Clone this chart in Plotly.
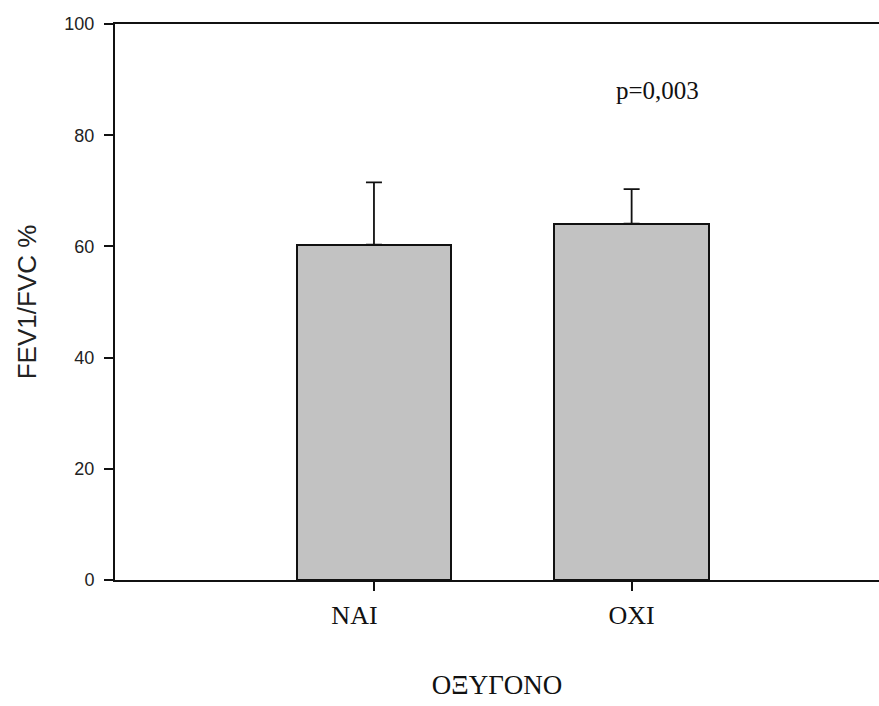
import plotly.graph_objects as go

categories = ["NAI", "OXI"]
means = [60.3, 64.1]
err_plus = [11.2, 6.2]
y_ticks = [0, 20, 40, 60, 80, 100]
annotation_text = "p=0,003"

x_pos = list(range(len(categories)))
# the reference draws the first category label slightly left of its tick
tick_display = [categories[0] + "\u00a0" * 6, categories[1]]

fig = go.Figure()
fig.add_trace(go.Bar(
    x=x_pos,
    y=means,
    width=0.6,
    marker=dict(color="#c2c2c2", line=dict(color="#111111", width=2)),
    error_y=dict(type="data", symmetric=False, array=err_plus,
                 arrayminus=[0] * len(means), color="#111111",
                 thickness=1.8, width=8),
    showlegend=False,
))

fig.add_annotation(x=1.1, y=88, text=annotation_text, showarrow=False,
                   font=dict(family="Liberation Serif", size=25, color="#111111"))

fig.update_layout(
    width=879, height=706,
    margin=dict(l=115, r=0, t=24, b=126),
    paper_bgcolor="white", plot_bgcolor="white",
    bargap=0,
)
fig.update_xaxes(
    range=[-1.005, 1.96],
    tickvals=x_pos, ticktext=tick_display,
    showline=True, linecolor="#111111", linewidth=2, mirror=True,
    ticks="outside", ticklen=9, tickwidth=1.5, tickcolor="#111111",
    showgrid=False, zeroline=False,
    tickfont=dict(family="Liberation Serif", size=26, color="#111111"),
    ticklabelstandoff=2,
    title=dict(text="ΟΞΥΓΟΝΟ", standoff=46,
               font=dict(family="Liberation Serif", size=27, color="#111111")),
)
fig.update_yaxes(
    range=[0, 100],
    tickvals=y_ticks,
    showline=True, linecolor="#111111", linewidth=2, mirror=False,
    ticks="outside", ticklen=9, tickwidth=1.5, tickcolor="#111111",
    showgrid=False, zeroline=False,
    tickfont=dict(family="Liberation Sans", size=18, color="#222222"),
    ticklabelstandoff=6,
    title=dict(text="FEV1/FVC %", standoff=20,
               font=dict(family="Liberation Sans", size=26, color="#222222")),
)

fig.write_html(
    "out.html",
    config={"displayModeBar": False},
    post_script=(
        "document.body.style.margin='0';"
        "document.body.style.overflow='hidden';"
        "document.documentElement.style.overflow='hidden';"
    ),
)
